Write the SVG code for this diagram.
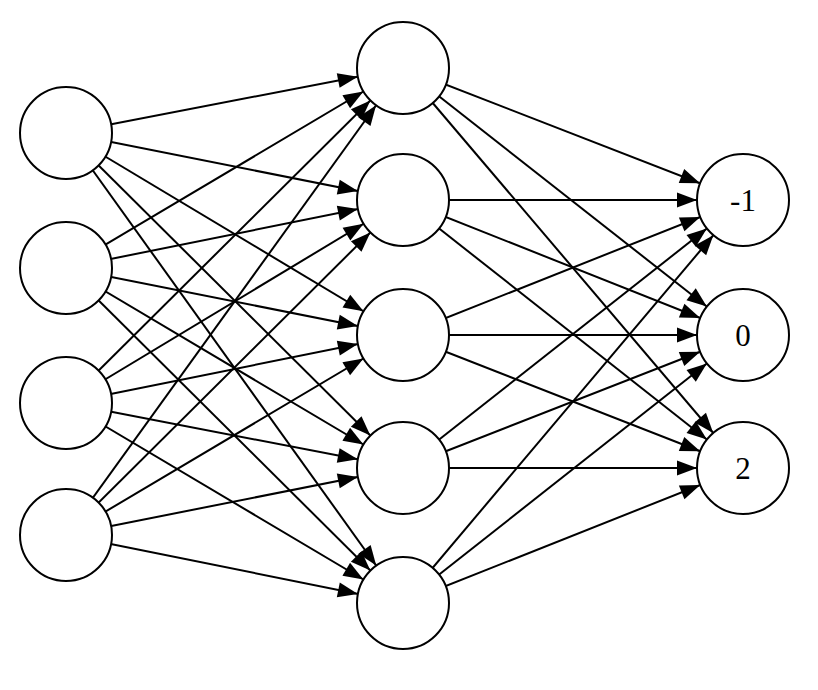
<svg xmlns="http://www.w3.org/2000/svg" width="818" height="690" viewBox="0 0 818 690">
<style>
line{stroke:#000;stroke-width:2;marker-end:url(#a)}
circle{fill:#fff;stroke:#000;stroke-width:2}
text{font-family:"Liberation Serif",serif;font-size:31px;text-anchor:middle}
</style>
<defs><marker id="a" markerUnits="userSpaceOnUse" markerWidth="30" markerHeight="30" refX="46" refY="0" orient="auto" overflow="visible"><path d="M-20,-7.5 L0,0 L-20,7.5 z" fill="#000"/></marker></defs>
<rect width="818" height="690" fill="#fff"/>
<g id="edges">
<line x1="66" y1="133" x2="403" y2="68"/><line x1="66" y1="133" x2="403" y2="200"/><line x1="66" y1="133" x2="403" y2="335"/><line x1="66" y1="133" x2="403" y2="468"/><line x1="66" y1="133" x2="403" y2="603"/>
<line x1="66" y1="268" x2="403" y2="68"/><line x1="66" y1="268" x2="403" y2="200"/><line x1="66" y1="268" x2="403" y2="335"/><line x1="66" y1="268" x2="403" y2="468"/><line x1="66" y1="268" x2="403" y2="603"/>
<line x1="66" y1="403" x2="403" y2="68"/><line x1="66" y1="403" x2="403" y2="200"/><line x1="66" y1="403" x2="403" y2="335"/><line x1="66" y1="403" x2="403" y2="468"/><line x1="66" y1="403" x2="403" y2="603"/>
<line x1="66" y1="535" x2="403" y2="68"/><line x1="66" y1="535" x2="403" y2="200"/><line x1="66" y1="535" x2="403" y2="335"/><line x1="66" y1="535" x2="403" y2="468"/><line x1="66" y1="535" x2="403" y2="603"/>
<line x1="403" y1="68" x2="743" y2="200"/><line x1="403" y1="68" x2="743" y2="335"/><line x1="403" y1="68" x2="743" y2="468"/>
<line x1="403" y1="200" x2="743" y2="200"/><line x1="403" y1="200" x2="743" y2="335"/><line x1="403" y1="200" x2="743" y2="468"/>
<line x1="403" y1="335" x2="743" y2="200"/><line x1="403" y1="335" x2="743" y2="335"/><line x1="403" y1="335" x2="743" y2="468"/>
<line x1="403" y1="468" x2="743" y2="200"/><line x1="403" y1="468" x2="743" y2="335"/><line x1="403" y1="468" x2="743" y2="468"/>
<line x1="403" y1="603" x2="743" y2="200"/><line x1="403" y1="603" x2="743" y2="335"/><line x1="403" y1="603" x2="743" y2="468"/>
</g>
<g id="i1"><circle cx="66" cy="133" r="46"/></g>
<g id="i2"><circle cx="66" cy="268" r="46"/></g>
<g id="i3"><circle cx="66" cy="403" r="46"/></g>
<g id="i4"><circle cx="66" cy="535" r="46"/></g>
<g id="h1"><circle cx="403" cy="68" r="46"/></g>
<g id="h2"><circle cx="403" cy="200" r="46"/></g>
<g id="h3"><circle cx="403" cy="335" r="46"/></g>
<g id="h4"><circle cx="403" cy="468" r="46"/></g>
<g id="h5"><circle cx="403" cy="603" r="46"/></g>
<g id="o1"><circle cx="743" cy="200" r="46"/><text x="743" y="211">-1</text></g>
<g id="o2"><circle cx="743" cy="335" r="46"/><text x="743" y="346">0</text></g>
<g id="o3"><circle cx="743" cy="468" r="46"/><text x="743" y="479">2</text></g>
</svg>
